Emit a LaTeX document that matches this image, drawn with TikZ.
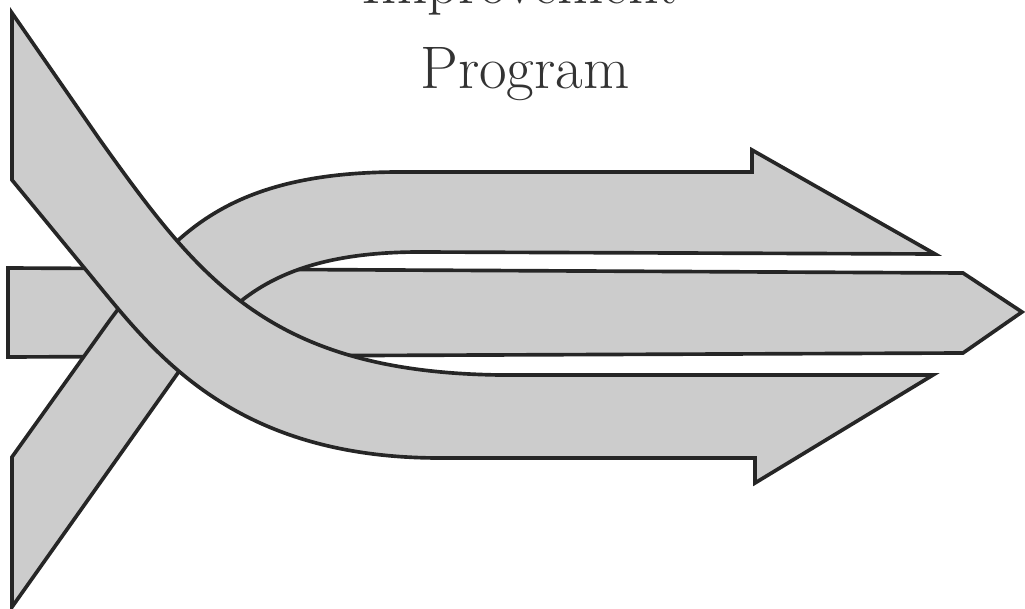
\documentclass[tikz,border=0pt]{standalone}
\usetikzlibrary{positioning}

\begin{document}
\begin{tikzpicture}[
      x=0.025cm, y=-0.025cm,
      band/.style={draw=black!85, fill=black!20, line width=2.6pt,
      line join=miter},
      title/.style={font=\fontsize{42.7}{50}\selectfont, text=black!80,
      inner sep=0pt, anchor=base}
    ]
    \useasboundingbox (0,0) rectangle (1025,609);
    \clip (0,0) rectangle (1025,609);

    % Title
    \node [title] (improve) at (520,4) {Improvement};
    \node [title] (program) at (525,89) {Program};

    % Middle band (lowest layer)
    \path [band] (8,268) -- (963,273) -- (1022,312) -- (963,353)
      -- (8,357) -- cycle;

    % Rising band to the upper arrow
    \path [band] (12,457) -- (110,320) .. controls (170,240) and (220,172) ..
      (400,172) -- (752,172) -- (752,150) -- (935,254) -- (420,252)
      .. controls (270,252) and (225,307) .. (180,370) -- (12,607) -- cycle;

    % Falling band to the lower arrow (top layer)
    \path [band] (12,13) -- (100,140) .. controls (200,280) and (270,372) ..
      (500,375) -- (933,375) -- (755,483) -- (755,458) -- (440,458)
      .. controls (240,458) and (160,360) .. (100,287) -- (12,180) -- cycle;
  \end{tikzpicture}
\end{document}
